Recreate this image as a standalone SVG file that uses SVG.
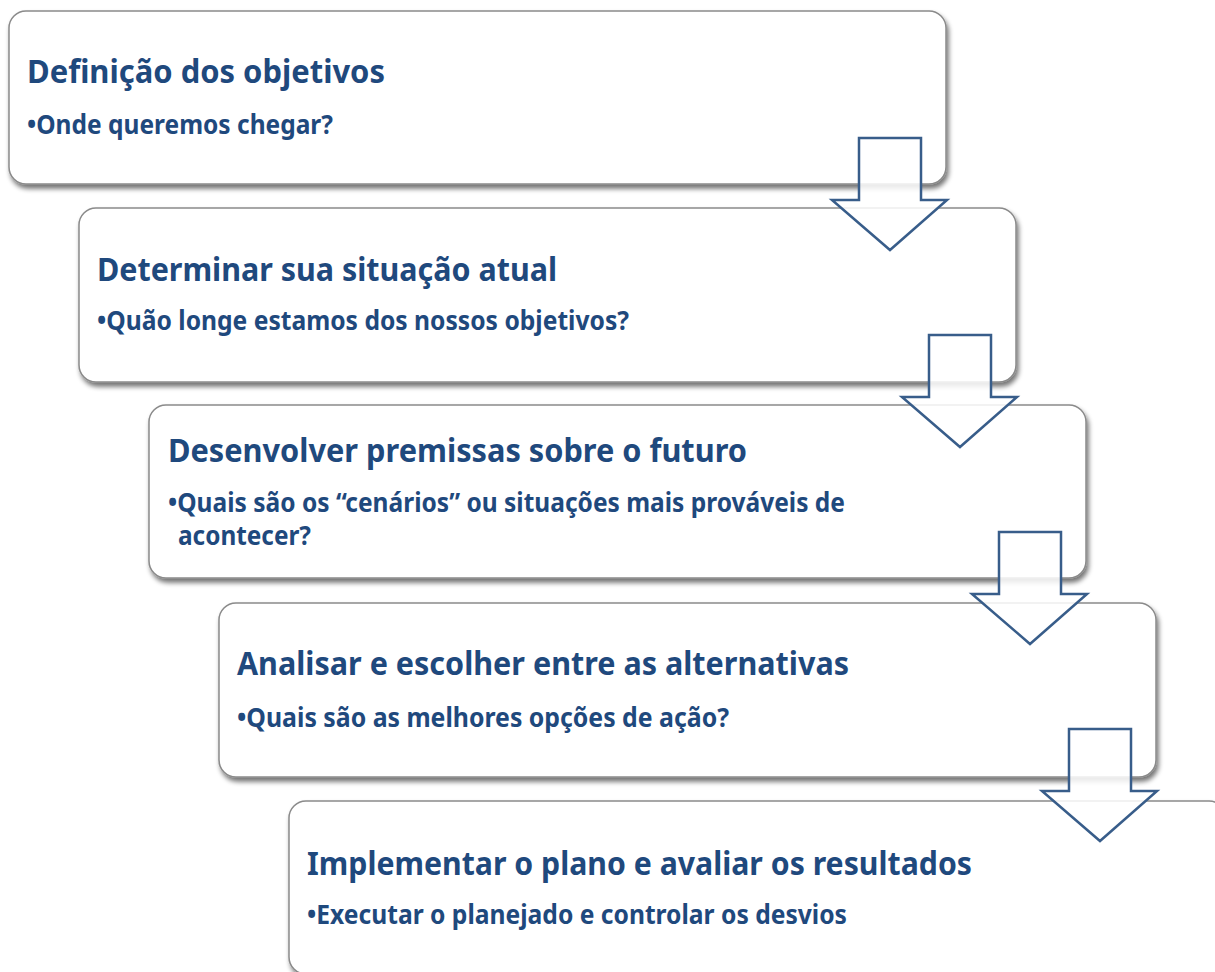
<svg xmlns="http://www.w3.org/2000/svg" width="1215" height="972" viewBox="0 0 1215 972">
<defs>
<filter id="sh" x="-5%" y="-10%" width="110%" height="130%">
<feGaussianBlur in="SourceAlpha" stdDeviation="2.5"/>
<feOffset dx="2" dy="4" result="b"/>
<feComponentTransfer><feFuncA type="linear" slope="0.55"/></feComponentTransfer>
<feMerge><feMergeNode/><feMergeNode in="SourceGraphic"/></feMerge>
</filter>
<path id="arr" d="M27,0 H89 V62 H115 L58,112 L0,62 H27 Z"/>
</defs>
<style>
.box{fill:#ffffff;stroke:#8a8a8a;stroke-width:1.5;filter:url(#sh)}
.t{font-family:"Noto Sans","Open Sans",sans-serif;font-weight:700;fill:#1F497D;font-size:31.5px}
.s{font-family:"Noto Sans","Open Sans",sans-serif;font-weight:700;fill:#1F497D;font-size:26px}
.a{fill:#ffffff;fill-opacity:0.85;stroke:#385D8A;stroke-width:2.5;stroke-linejoin:miter}
</style>
<rect width="1215" height="972" fill="#ffffff"/>
<g id="node1">
<rect class="box" x="9" y="11" width="937" height="173" rx="17"/>
<text class="t" x="27" y="83" textLength="358" lengthAdjust="spacingAndGlyphs">Definição dos objetivos</text>
<text class="s" x="27" y="134" textLength="306" lengthAdjust="spacingAndGlyphs">•Onde queremos chegar?</text>
</g>
<g id="node2">
<rect class="box" x="79" y="208" width="937" height="174" rx="17"/>
<text class="t" x="97" y="281" textLength="460" lengthAdjust="spacingAndGlyphs">Determinar sua situação atual</text>
<text class="s" x="97" y="330" textLength="532" lengthAdjust="spacingAndGlyphs">•Quão longe estamos dos nossos objetivos?</text>
</g>
<g id="node3">
<rect class="box" x="149" y="405" width="937" height="173" rx="17"/>
<text class="t" x="168" y="462" textLength="579" lengthAdjust="spacingAndGlyphs">Desenvolver premissas sobre o futuro</text>
<text class="s" x="168" y="512" textLength="677" lengthAdjust="spacingAndGlyphs">•Quais são os “cenários” ou situações mais prováveis de</text>
<text class="s" x="178" y="545" textLength="133" lengthAdjust="spacingAndGlyphs">acontecer?</text>
</g>
<g id="node4">
<rect class="box" x="219" y="603" width="937" height="174" rx="17"/>
<text class="t" x="237" y="675" textLength="612" lengthAdjust="spacingAndGlyphs">Analisar e escolher entre as alternativas</text>
<text class="s" x="237" y="727" textLength="492" lengthAdjust="spacingAndGlyphs">•Quais são as melhores opções de ação?</text>
</g>
<g id="node5">
<rect class="box" x="289" y="801" width="937" height="173" rx="17"/>
<text class="t" x="307" y="875" textLength="665" lengthAdjust="spacingAndGlyphs">Implementar o plano e avaliar os resultados</text>
<text class="s" x="307" y="924" textLength="540" lengthAdjust="spacingAndGlyphs">•Executar o planejado e controlar os desvios</text>
</g>
<g id="connectors">
<use href="#arr" class="a" transform="translate(832,138)"/>
<use href="#arr" class="a" transform="translate(902,335)"/>
<use href="#arr" class="a" transform="translate(972,532)"/>
<use href="#arr" class="a" transform="translate(1042,729)"/>
</g>
</svg>
